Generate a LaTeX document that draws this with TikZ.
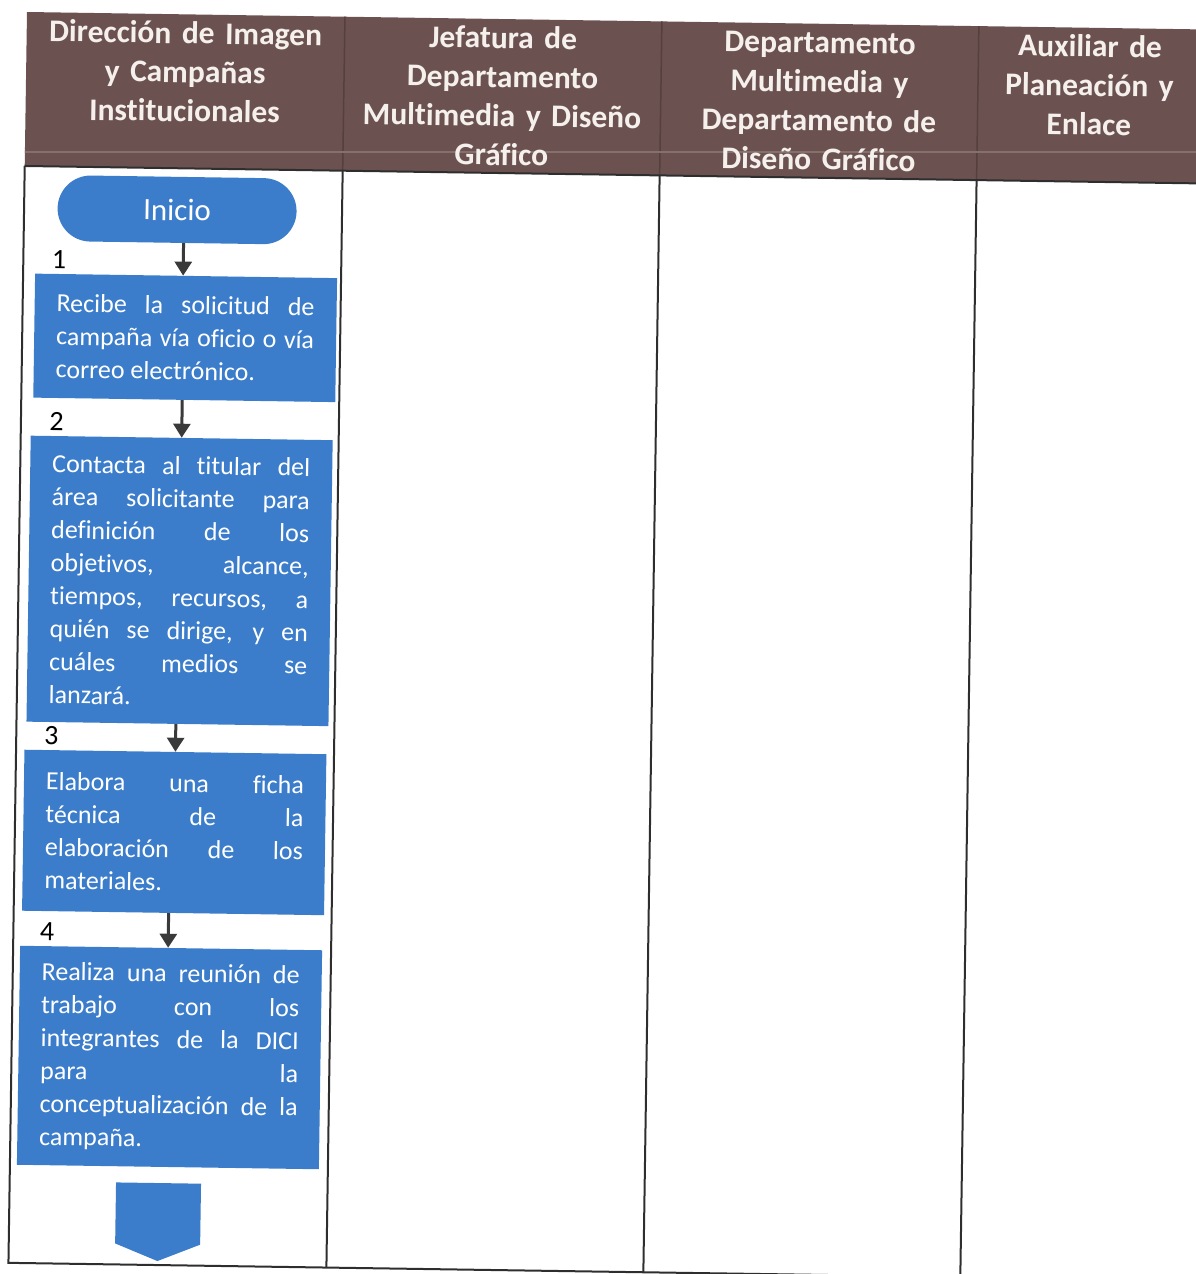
\documentclass[tikz,border=0pt]{standalone}
\usepackage{fontspec}
\setmainfont{Carlito}[Ligatures=CommonOff]
\usetikzlibrary{arrows.meta}

\definecolor{hdrbrown}{HTML}{6B5250}
\definecolor{hdrband}{HTML}{86706C}
\definecolor{hdrdiv}{HTML}{55403E}
\definecolor{hdrtext}{HTML}{F5F0EC}
\definecolor{stepblue}{HTML}{3B7DCA}
\definecolor{gridline}{HTML}{2E2E2E}
\definecolor{arrowgray}{HTML}{3A3A3A}

\begin{document}
\begin{tikzpicture}[x=1pt,y=1pt,
  hdr/.style={anchor=north, inner sep=0pt, text=hdrtext, align=center,
    text width=310pt, font=\fontsize{31.5}{39}\selectfont\bfseries},
  stepbox/.style={rectangle, fill=stepblue, text=white, inner xsep=22pt,
    inner ysep=0pt, text width=258pt, align=justify,
    font=\fontsize{26}{33}\selectfont},
  term/.style={rectangle, rounded corners=33pt, fill=stepblue, text=white,
    minimum width=239pt, minimum height=66pt, inner sep=0pt,
    font=\fontsize{31}{37}\selectfont},
  steplabel/.style={anchor=base, inner sep=0pt, text=black,
    font=\fontsize{28}{32}\selectfont},
  flow/.style={draw=arrowgray, line width=3pt,
    -{Triangle[width=17pt,length=14pt]}},
  gridrule/.style={draw=gridline, line width=2pt},
]
\useasboundingbox (0,0) rectangle (1196,-1274);
\clip (0,0) rectangle (1196,-1274);

\begin{scope}[rotate around={-0.85:(27,-12)}, transform shape]
  % header band
  \fill[hdrbrown] (27,-12) rectangle (1225,-166);
  \foreach \cx in {345,662,979}
    \draw[hdrdiv, line width=1.5pt] (\cx,-12) -- (\cx,-166);
\end{scope}

% light streak across the header band
\begin{scope}
  \clip[rotate around={-0.85:(27,-12)}] (27,-12) rectangle (1225,-166);
  \draw[hdrband, line width=1.5pt] (0,-152) -- (1196,-152);
\end{scope}

\begin{scope}[rotate around={-0.85:(27,-12)}, transform shape]
  % lane grid
  \draw[gridrule] (27,-166) -- (1225,-166);
  \draw[gridrule] (27,-166) -- (27,-1263) -- (1225,-1263);
  \foreach \cx in {345,662,979}
    \draw[gridrule] (\cx,-166) -- (\cx,-1263);

  % lane titles
  \node[hdr] (h1) at (186,-13.7)
    {\strut Dirección de Imagen\\y Campañas\\Institucionales};
  \node[hdr] (h2) at (503.5,-13.7)
    {\strut Jefatura de\\Departamento\\Multimedia y Diseño\\Gráfico};
  \node[hdr] (h3) at (820.5,-13.7)
    {\strut Departamento\\Multimedia y\\Departamento de\\Diseño Gráfico};
  \node[hdr] (h4) at (1090.5,-13.7)
    {\strut Auxiliar de\\Planeación y\\Enlace};

  % process steps
  \node[term] (inicio) at (180,-207.6) {Inicio};

  \node[stepbox, minimum height=124pt] (b1) at (190,-335.5)
    {Recibe la solicitud de\linebreak campaña vía oficio o vía\linebreak
     correo electrónico.};
  \node[stepbox, minimum height=286pt] (b2) at (188,-578.6)
    {Contacta al titular del\linebreak área solicitante para\linebreak
     definición de los\linebreak objetivos, alcance,\linebreak
     tiempos, recursos, a\linebreak quién se dirige, y en\linebreak
     cuáles medios se\linebreak lanzará.};
  \node[stepbox, minimum height=161pt] (b3) at (186.4,-830.2)
    {Elabora una ficha\linebreak técnica de la\linebreak
     elaboración de los\linebreak materiales.};
  \node[stepbox, minimum height=219pt] (b4) at (185,-1055.3)
    {Realiza una reunión de\linebreak trabajo con los\linebreak
     integrantes de la DICI\linebreak para la\linebreak
     conceptualización de la\linebreak campaña.};

  % step numbers
  \node[steplabel] (n1) at ([xshift=24pt,yshift=5pt]b1.north west) {1};
  \node[steplabel] (n2) at ([xshift=26pt,yshift=5pt]b2.north west) {2};
  \node[steplabel] (n3) at ([xshift=27pt,yshift=5pt]b3.north west) {3};
  \node[steplabel] (n4) at ([xshift=27pt,yshift=5pt]b4.north west) {4};

  % flow arrows
  \draw[flow] ([xshift=-3pt]inicio.south -| b1.north) -- ([xshift=-3pt]b1.north);
  \draw[flow] (b1.south -| b2.north) -- (b2.north);
  \draw[flow] (b2.south -| b3.north) -- (b3.north);
  \draw[flow] ([xshift=-3pt]b3.south -| b4.north) -- ([xshift=-3pt]b4.north);

  % off-page connector
  \fill[stepblue] (133.4,-1181) -- (218.4,-1181) -- (218.4,-1242)
    -- (175.9,-1259) -- (133.4,-1242) -- cycle;
\end{scope}
\end{tikzpicture}
\end{document}
